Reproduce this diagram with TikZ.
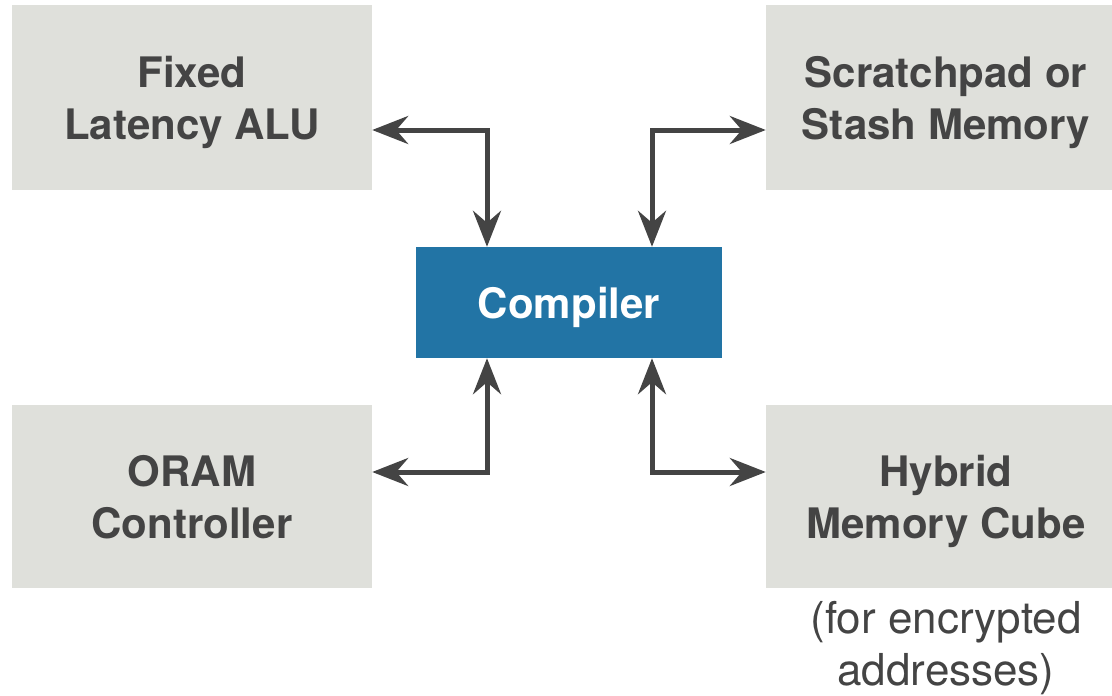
\documentclass[tikz,border=0pt]{standalone}
\usepackage{fontspec}
\setmainfont{TeX Gyre Heros}
\usetikzlibrary{positioning, arrows.meta}
\definecolor{boxgray}{HTML}{DFE0DB}
\definecolor{compblue}{HTML}{2274A5}
\definecolor{textgray}{HTML}{444444}
\tikzstyle{BiArrow} = [
%double headed elbow arrow:
draw=textgray, line width = 5pt,
{Stealth[length=36pt, width=28pt, inset=12pt]}-{Stealth[length=36pt, width=28pt, inset=12pt]}
]

\begin{document}
\begin{tikzpicture}[x=1pt, y=-1pt,
			unit/.style = {rectangle, fill = boxgray, text = textgray, align = center, text depth = 0pt, minimum width = 360pt, minimum height = 185pt, font = \bfseries\fontsize{42}{52}\selectfont},
			core/.style = {rectangle, fill = compblue, text = white, text depth = 0pt, minimum width = 306pt, minimum height = 111pt, font = \bfseries\fontsize{42}{52}\selectfont},
			note/.style = {text = textgray, align = center, font = \fontsize{44}{52}\selectfont},
		]
		\useasboundingbox (0,0) rectangle (1112,696);
		\node[unit](ALU) at (192,97.5){Fixed\\Latency ALU};
		\node[unit](SPM) at (946,97.5){Scratchpad or\\Stash Memory};
		\node[unit, minimum height = 183pt](ORAM) at (192,496.5){ORAM\\Controller};
		\node[unit, minimum height = 183pt](HMC) at (946,496.5){Hybrid\\Memory Cube};
		\node[core](C) at (569,302.5){Compiler};
		\node[note](N) at (946,648){(for encrypted\\addresses)};

		\draw[BiArrow]([yshift=-32.5pt]ALU.east) -| ([xshift=-82pt]C.north);
		\draw[BiArrow]([yshift=-32.5pt]SPM.west) -| ([xshift=83pt]C.north);
		\draw[BiArrow]([yshift=24.5pt]ORAM.east) -| ([xshift=-82pt]C.south);
		\draw[BiArrow]([yshift=24.5pt]HMC.west) -| ([xshift=83pt]C.south);

	\end{tikzpicture}
\end{document}
